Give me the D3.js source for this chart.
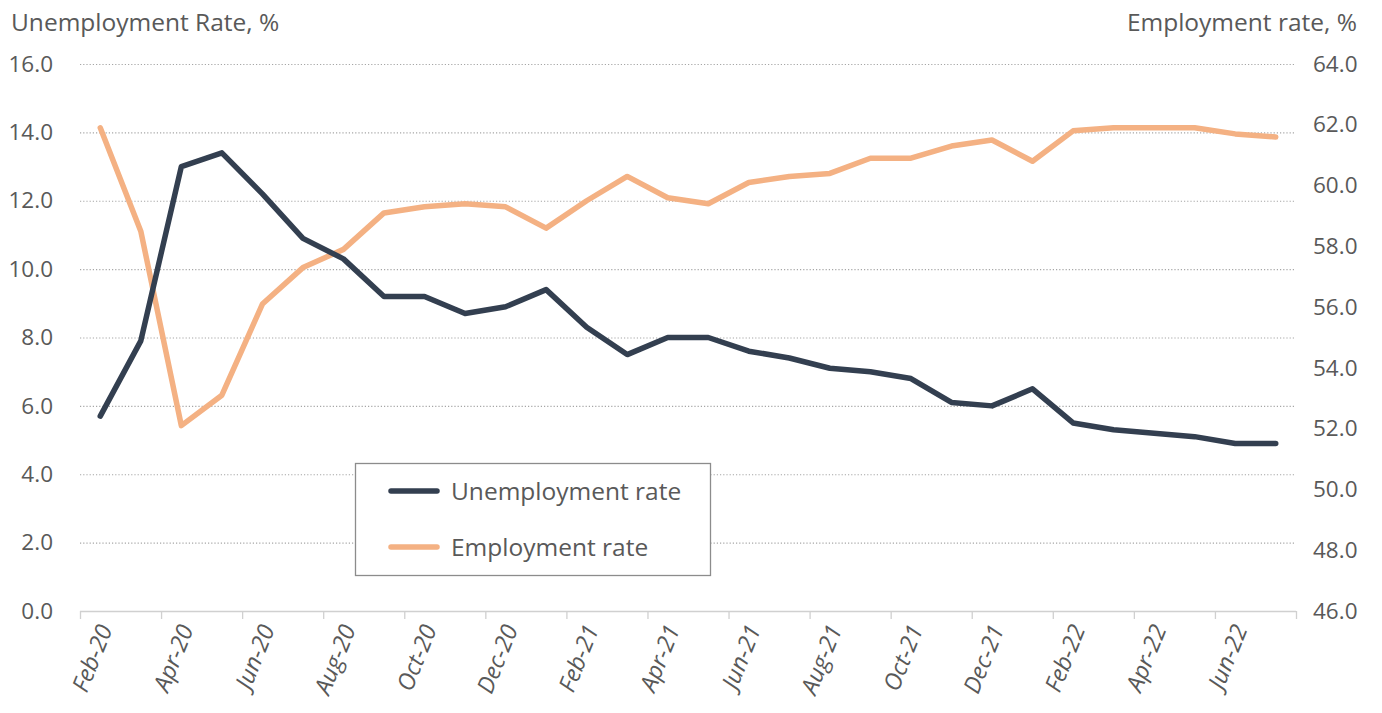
<!DOCTYPE html>
<html>
<head>
<meta charset="utf-8">
<script src="https://cdn.jsdelivr.net/npm/d3@7/dist/d3.min.js"></script>
<style>
  html, body { margin: 0; padding: 0; background: #fff; }
  svg { display: block; }
  text { font-family: "Open Sans", "Noto Sans", sans-serif; fill: #595959; }
</style>
</head>
<body>
<svg id="chart" width="1382" height="713"></svg>
<script>
const months = ["Feb-20","Mar-20","Apr-20","May-20","Jun-20","Jul-20","Aug-20","Sep-20","Oct-20","Nov-20","Dec-20",
  "Jan-21","Feb-21","Mar-21","Apr-21","May-21","Jun-21","Jul-21","Aug-21","Sep-21","Oct-21","Nov-21","Dec-21",
  "Jan-22","Feb-22","Mar-22","Apr-22","May-22","Jun-22","Jul-22"];
const unemploymentRate = [5.7,7.9,13.0,13.4,12.2,10.9,10.3,9.2,9.2,8.7,8.9,9.4,8.3,7.5,8.0,8.0,7.6,7.4,7.1,7.0,6.8,6.1,6.0,6.5,5.5,5.3,5.2,5.1,4.9,4.9];
const employmentRate = [61.9,58.5,52.1,53.1,56.1,57.3,57.9,59.1,59.3,59.4,59.3,58.6,59.5,60.3,59.6,59.4,60.1,60.3,60.4,60.9,60.9,61.3,61.5,60.8,61.8,61.9,61.9,61.9,61.7,61.6];
const leftTicks = [0,2,4,6,8,10,12,14,16];
const rightTicks = [46,48,50,52,54,56,58,60,62,64];
const labelMonths = months.filter((m, i) => i % 2 === 0);

(function () {
const svg = d3.select("#chart");
const pL = 80, pR = 1296, pT = 64, pB = 611;

const x = d3.scaleBand().domain(months).range([pL, pR]).paddingInner(0).paddingOuter(0);
const yL = d3.scaleLinear().domain([0, 16]).range([pB, pT]);
const yR = d3.scaleLinear().domain([46, 64]).range([pB, pT]);

// gridlines
svg.append("g").selectAll("line").data(leftTicks.slice(1)).join("line")
  .attr("x1", pL).attr("x2", pR)
  .attr("y1", d => yL(d) + 0.5).attr("y2", d => yL(d) + 0.5)
  .attr("stroke", "#a6a6a6").attr("stroke-width", 1.2).attr("stroke-dasharray", "1.2,2");

// left axis labels
const gL = svg.append("g").attr("transform", `translate(${pL - 27},0)`)
  .call(d3.axisLeft(yL).tickValues(leftTicks).tickFormat(d3.format(".1f")).tickSize(0).tickPadding(0));
gL.select(".domain").remove();
gL.selectAll("text").attr("font-size", 22.5).style("fill", "#595959")
  .attr("font-family", "'Open Sans', sans-serif");

// right axis labels
const gR = svg.append("g").attr("transform", `translate(${pR + 17},0)`)
  .call(d3.axisRight(yR).tickValues(rightTicks).tickFormat(d3.format(".1f")).tickSize(0).tickPadding(0));
gR.select(".domain").remove();
gR.selectAll("text").attr("font-size", 22.5).style("fill", "#595959")
  .attr("font-family", "'Open Sans', sans-serif");

// bottom axis line and ticks
svg.append("line").attr("x1", pL).attr("x2", pR).attr("y1", pB + 0.5).attr("y2", pB + 0.5)
  .attr("stroke", "#d0d0d0").attr("stroke-width", 1.3);
const tickPos = d3.range(0, months.length + 1, 2).map(i => pL + i * x.bandwidth());
svg.append("g").selectAll("line").data(tickPos).join("line")
  .attr("x1", d => d + 0.5).attr("x2", d => d + 0.5).attr("y1", pB).attr("y2", pB + 8)
  .attr("stroke", "#d0d0d0").attr("stroke-width", 1.3);

// x labels
svg.append("g").selectAll("text").data(labelMonths).join("text")
  .attr("transform", d => `translate(${x(d) + x.bandwidth() / 2 + 5},${pB + 15}) rotate(-68)`)
  .attr("text-anchor", "end").attr("dy", "0.35em")
  .attr("font-size", 23.5).style("font-style", "italic")
  .text(d => d);

// titles
svg.append("text").attr("x", 11).attr("y", 31).attr("font-size", 24.5).text("Unemployment Rate, %");
svg.append("text").attr("x", 1357).attr("y", 31).attr("text-anchor", "end").attr("font-size", 24.5).text("Employment rate, %");

const colU = "#333f50", colE = "#f4b183";
const lineU = d3.line().x((d, i) => x(months[i]) + x.bandwidth() / 2).y(d => yL(d));
const lineE = d3.line().x((d, i) => x(months[i]) + x.bandwidth() / 2).y(d => yR(d));

svg.append("path").datum(employmentRate).attr("d", lineE)
  .attr("fill", "none").attr("stroke", colE).attr("stroke-width", 5.5)
  .attr("stroke-linejoin", "round").attr("stroke-linecap", "round");
svg.append("path").datum(unemploymentRate).attr("d", lineU)
  .attr("fill", "none").attr("stroke", colU).attr("stroke-width", 5.5)
  .attr("stroke-linejoin", "round").attr("stroke-linecap", "round");

// legend
const lg = svg.append("g");
lg.append("rect").attr("x", 355.5).attr("y", 463.5).attr("width", 355).attr("height", 112)
  .attr("fill", "#fff").attr("stroke", "#8c8c8c").attr("stroke-width", 1.3);
const legendItems = [{name: "Unemployment rate", color: colU, y: 491}, {name: "Employment rate", color: colE, y: 547}];
legendItems.forEach(it => {
  lg.append("line").attr("x1", 391).attr("x2", 437).attr("y1", it.y).attr("y2", it.y)
    .attr("stroke", it.color).attr("stroke-width", 5.5).attr("stroke-linecap", "round");
  lg.append("text").attr("x", 451).attr("y", it.y).attr("dy", "0.35em").attr("font-size", 24.5).text(it.name);
});
})();
</script>
</body>
</html>
